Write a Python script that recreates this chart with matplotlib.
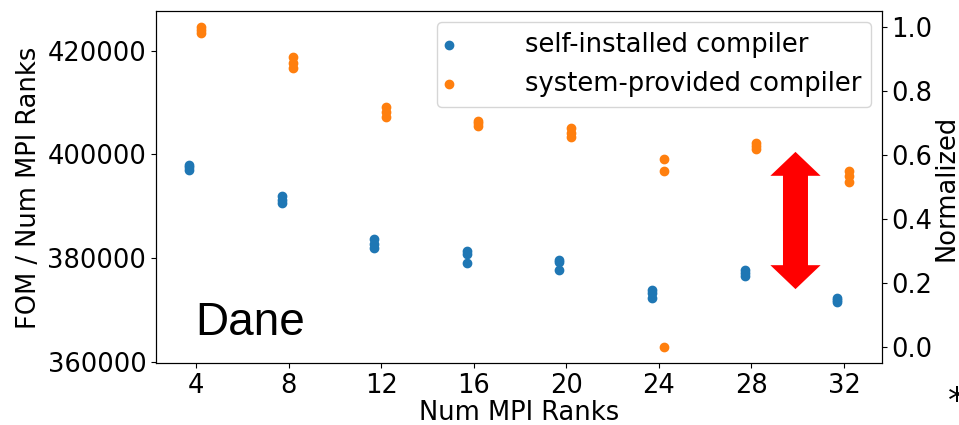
import numpy as np
import matplotlib
matplotlib.use("Agg")
import matplotlib.pyplot as plt

ranks = [4, 8, 12, 16, 20, 24, 28, 32]

# FOM / Num MPI Ranks, repeated runs per rank count
self_installed = [
    [398040, 397500, 396980],
    [392080, 391300, 390640],
    [383620, 382800, 381980],
    [381300, 380800, 379000],
    [379700, 379300, 377750],
    [373900, 373300, 372250],
    [377650, 377100, 376500],
    [372370, 371900, 371500],
]
system_provided = [
    [424480, 423900, 423330],
    [418710, 417700, 416600],
    [409100, 408200, 407270],
    [406500, 406000, 405440],
    [405060, 404200, 403420],
    [399150, 396790, 362810],
    [402270, 401600, 401020],
    [396790, 395800, 394770],
]

plt.rcParams["font.size"] = 18.5

fig = plt.figure(figsize=(9.59, 4.25), dpi=100)
ax = fig.add_axes([0.1627, 0.145, 0.7567, 0.828])

xs_b, ys_b, xs_o, ys_o = [], [], [], []
for r, b, o in zip(ranks, self_installed, system_provided):
    xs_b += [r - 0.3] * len(b)
    ys_b += b
    xs_o += [r + 0.2] * len(o)
    ys_o += o

ax.scatter(xs_b, ys_b, color="tab:blue", label="self-installed compiler")
ax.scatter(xs_o, ys_o, color="tab:orange", label="system-provided compiler")
ax.set_xticks(ranks)
ax.set_xlabel("Num MPI Ranks", labelpad=1)
ax.set_ylabel("FOM / Num MPI Ranks")
ax.legend(loc="upper right", handlelength=0.1, handletextpad=2.9,
          borderaxespad=0.4)

# right axis: system-provided values normalized to [0, 1]
omin = min(min(v) for v in system_provided)
omax = max(max(v) for v in system_provided)
lo, hi = ax.get_ylim()
ax2 = ax.twinx()
ax2.set_ylim((lo - omin) / (omax - omin), (hi - omin) / (omax - omin))
ax2.set_ylabel("Normalized", labelpad=1)

# red double arrow showing the gap
ymid = 387270
half = 13230
for d in (half, -half):
    start = ymid - np.sign(d) * 2000
    ax.arrow(29.9, start, 0, d + np.sign(d) * 2000, width=1.08, head_width=2.17,
             head_length=4615, length_includes_head=True, color="red", lw=0,
             zorder=5)

ax.text(0.054, 0.08, "Dane", transform=ax.transAxes, fontsize=33,
        family="Liberation Sans")
fig.text(948 / 959, 1 - 402 / 425, "*", fontsize=26, va="center", ha="left")

plt.savefig("out.png")
